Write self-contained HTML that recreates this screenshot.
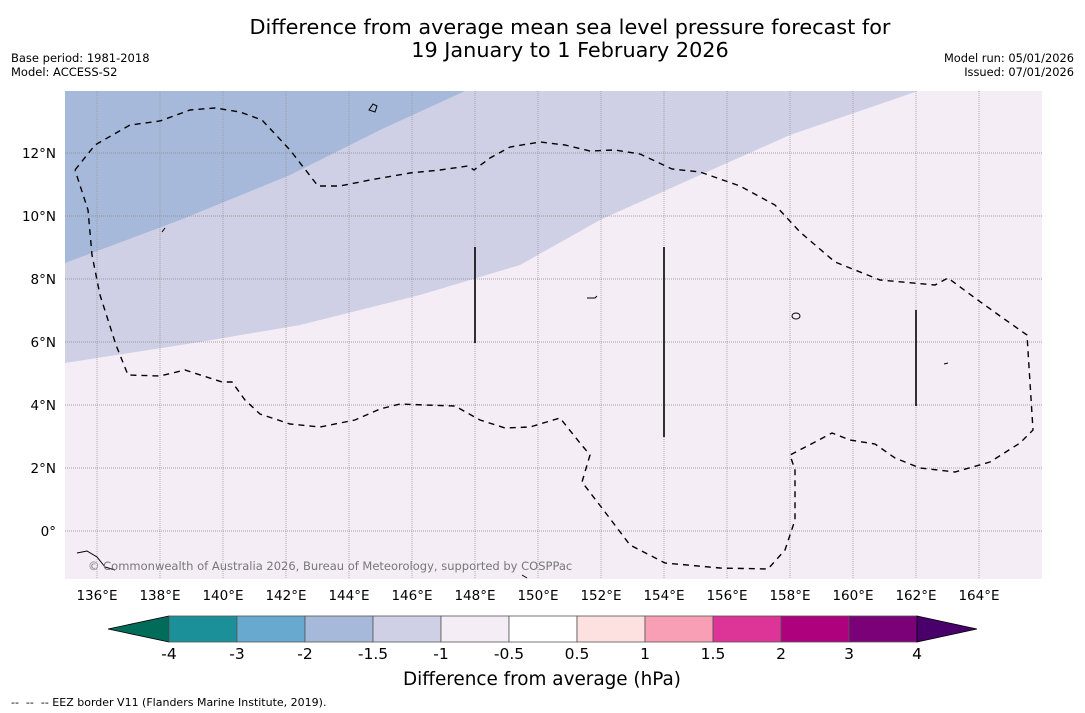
<!DOCTYPE html>
<html><head><meta charset="utf-8"><style>
body{margin:0;background:#fff;width:1085px;height:713px;overflow:hidden;font-family:"DejaVu Sans","Liberation Sans",sans-serif}
svg{position:absolute;left:0;top:0}
</style></head><body>
<svg width="1085" height="713" font-family="DejaVu Sans, Liberation Sans, sans-serif">
<text x="570" y="34" font-size="20.8" text-anchor="middle">Difference from average mean sea level pressure forecast for</text>
<text x="570" y="57" font-size="20.8" text-anchor="middle">19 January to 1 February 2026</text>
<text x="11" y="62" font-size="11.5">Base period: 1981-2018</text>
<text x="11" y="76" font-size="11.5">Model: ACCESS-S2</text>
<text x="1074" y="62" font-size="11.4" text-anchor="end">Model run: 05/01/2026</text>
<text x="1074" y="76" font-size="11.4" text-anchor="end">Issued: 07/01/2026</text>
<g id="map">
<defs><clipPath id="clip"><rect x="65" y="91" width="977" height="488"/></clipPath></defs>
<g clip-path="url(#clip)">
<rect x="65" y="91" width="977" height="488" fill="#f4edf6"/>
<polygon points="65,91 918,91 790,135 700,175 600,220 520,265 420,295 300,325 200,342 65,363" fill="#cfd0e5"/>
<polygon points="65,91 465,91 380,130 290,175 180,220 65,263" fill="#a6b9da"/>
<g id="grid"></g>
<polyline fill="none" stroke="#000" stroke-width="1.4" stroke-dasharray="6,5" points="75,170 95,145 130,125 160,121 190,110 215,108 240,112 262,120 290,150 318,186 340,186 370,180 410,173 440,170 468,166 474,170 490,158 510,147 540,142 565,145 590,151 615,150 640,154 672,169 700,172 740,186 775,205 800,232 835,262 880,280 935,285 948,278 975,298 1000,316 1027,335 1033,430 1020,443 990,462 955,472 920,468 895,458 875,444 850,440 832,433 815,442 790,455 795,470 795,520 785,550 768,569 720,568 665,563 630,545 605,512 582,482 590,455 580,443 560,418 530,427 505,428 480,420 455,406 425,405 400,404 380,409 355,420 320,427 290,424 260,414 245,400 232,382 222,382 185,370 160,376 128,375 116,345 100,295 92,255 88,210 75,170"/>
<g stroke="#000" stroke-width="1.6">
<line x1="475" y1="247" x2="475" y2="343"/><line x1="664" y1="247" x2="664" y2="437"/><line x1="916" y1="310" x2="916" y2="406"/>
</g>
<g fill="none" stroke="#000" stroke-width="1">
<path d="M369,110 l4,-6 4,2 -2,6z"/><path d="M162,232 l3,-4"/><path d="M587,298 l8,0 2,-2"/><path d="M792,316 a4,3 0 1,0 8,0 a4,3 0 1,0 -8,0"/><path d="M944,364 l4,-1"/><path d="M77,553 l10,-2 10,6 8,10 10,3"/><path d="M522,575 l5,3"/>
</g>
<text x="88" y="570" font-size="11.5" fill="#777">© Commonwealth of Australia 2026, Bureau of Meteorology, supported by COSPPac</text>
</g>
</g>
<g id="xt"></g><g id="yt"></g><g id="cb"></g>
<text x="542" y="685" font-size="18.4" text-anchor="middle">Difference from average (hPa)</text>
<text x="11" y="706" font-size="11" xml:space="preserve">--  --  -- EEZ border V11 (Flanders Marine Institute, 2019).</text>
</svg>
<script>
const lonTicks=[136,138,140,142,144,146,148,150,152,154,156,158,160,162,164];
const latTicks=[0,2,4,6,8,10,12];
const cbLabels=["-4","-3","-2","-1.5","-1","-0.5","0.5","1","1.5","2","3","4"];
const cbColors=["#1c9099","#67a9cf","#a6b9da","#cfd0e5","#f4edf6","#ffffff","#fde0e0","#f99fb5","#dd3497","#ae017e","#7a0177"];
const cbUnder="#016c59", cbOver="#49006a";
const NS="http://www.w3.org/2000/svg";
const xs=lon=>97+(lon-136)*31.5, ys=lat=>531-lat*31.5;
function mk(tag,attrs,parent,txt){const e=document.createElementNS(NS,tag);for(const k in attrs)e.setAttribute(k,attrs[k]);if(txt!==undefined)e.textContent=txt;parent.appendChild(e);return e;}
const grid=document.getElementById('grid'),xt=document.getElementById('xt'),yt=document.getElementById('yt'),cb=document.getElementById('cb');
lonTicks.forEach(l=>{const x=xs(l);
 const g=mk('line',{x1:x,y1:91,x2:x,y2:579,stroke:'#999','stroke-width':0.8,'stroke-dasharray':'1,1'},grid);
 
 
 const t=mk('text',{x:x,y:600,'font-size':13.5,'text-anchor':'middle'},xt,l+'°E');
 
 });
latTicks.forEach(l=>{const y=ys(l);
 const g=mk('line',{x1:65,y1:y,x2:1042,y2:y,stroke:'#888','stroke-width':0.8,'stroke-dasharray':'1,1'},grid);
 
 
 const t=mk('text',{x:56,y:y+5,'font-size':13.5,'text-anchor':'end'},yt,l===0?'0°':l+'°N');
 
 });
const cx0=169,cw=68,cy=616,ch=26;
const u=mk('polygon',{points:`108,${cy+ch/2} ${cx0},${cy} ${cx0},${cy+ch}`,fill:cbUnder,stroke:'#000','stroke-width':0.8},cb);


cbColors.forEach((c,i)=>{const r=mk('rect',{x:cx0+i*cw,y:cy,width:cw,height:ch,fill:c,stroke:'#555','stroke-width':0.8},cb);
 
 });
const xe=cx0+cbColors.length*cw;
const o=mk('polygon',{points:`${xe},${cy} ${xe+60},${cy+ch/2} ${xe},${cy+ch}`,fill:cbOver,stroke:'#000','stroke-width':0.8},cb);


cbLabels.forEach((s,i)=>{const t=mk('text',{x:cx0+i*cw,y:659,'font-size':15.5,'text-anchor':'middle'},cb,s);
 
 });
</script>
</body></html>
